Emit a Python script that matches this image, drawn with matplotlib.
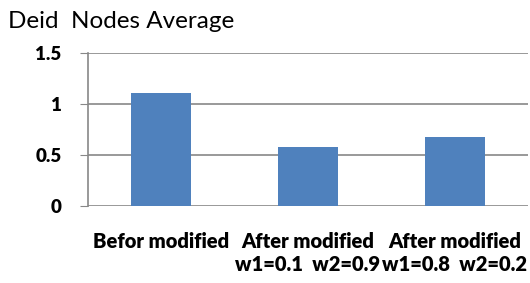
import matplotlib.pyplot as plt

categories = ['Befor modified', 'After modified\nw1=0.1  w2=0.9', 'After modified\nw1=0.8  w2=0.2']
values = [1.11, 0.58, 0.68]
yticks = [0, 0.5, 1, 1.5]
ytick_labels = ['0', '0.5', '1', '1.5']

fig = plt.figure(figsize=(5.3, 2.83), dpi=100)
ax = fig.add_axes([0.166, 0.272, 0.830, 0.541])

x = range(len(categories))
ax.bar(x, values, width=0.41, color='#4f81bd', zorder=3)

ax.set_xlim(-0.5, 2.5)
ax.set_ylim(0, 1.5)
ax.set_yticks(yticks)
ax.set_yticklabels(ytick_labels, fontsize=13.5, fontweight='heavy', family='Lato')
ax.set_xticks(list(x))
ax.set_xticklabels(categories, fontsize=14.5, fontweight='heavy', family='Lato', linespacing=1.2)
ax.tick_params(axis='x', length=0, pad=19)
ax.tick_params(axis='y', length=6, color='#888888', pad=13)

for v in yticks:
    ax.axhline(v, color='#888888', lw=1.2, zorder=1)

for side in ['top', 'right', 'bottom']:
    ax.spines[side].set_visible(False)
ax.spines['left'].set_color('#888888')
ax.spines['left'].set_linewidth(1.2)

fig.text(0.015, 0.925, 'Deid  Nodes Average', fontsize=17.5, family='Lato', va='center')

fig.savefig('out.png', dpi=100)
